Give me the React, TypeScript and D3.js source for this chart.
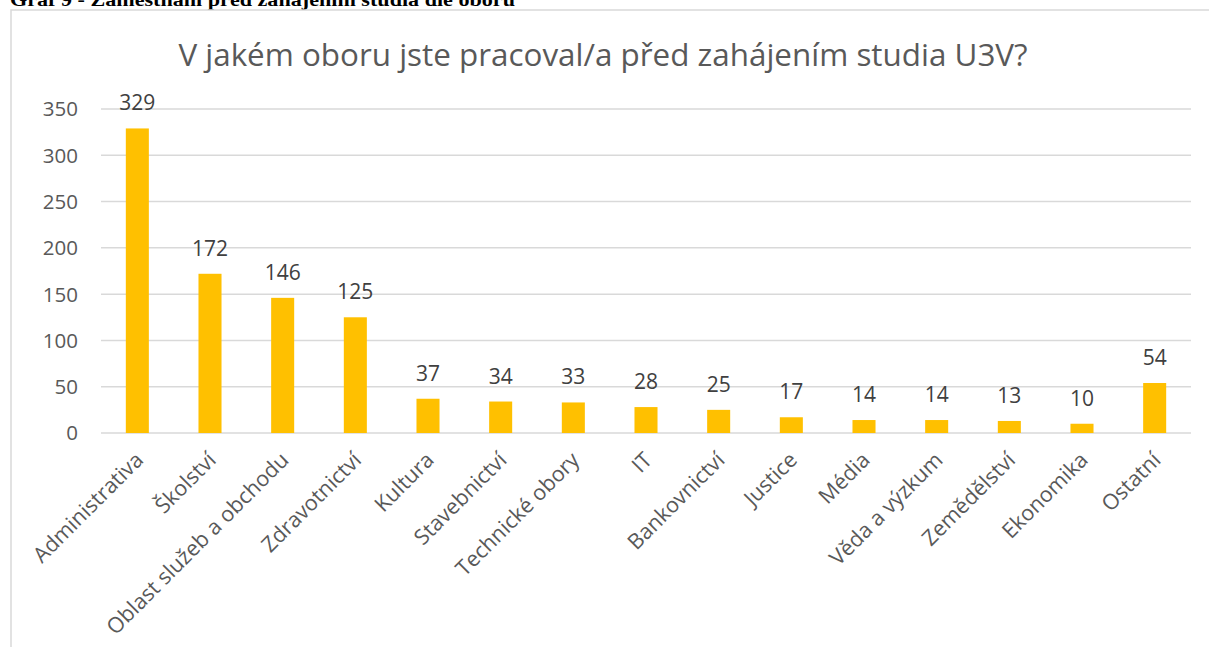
import React from "react";
import * as d3 from "d3";

const categories = [
  "Administrativa",
  "Školství",
  "Oblast služeb a obchodu",
  "Zdravotnictví",
  "Kultura",
  "Stavebnictví",
  "Technické obory",
  "IT",
  "Bankovnictví",
  "Justice",
  "Média",
  "Věda a výzkum",
  "Zemědělství",
  "Ekonomika",
  "Ostatní",
];
const values = [329, 172, 146, 125, 37, 34, 33, 28, 25, 17, 14, 14, 13, 10, 54];
const yTicks = [0, 50, 100, 150, 200, 250, 300, 350];
const caption = "Graf 9 - Zaměstnání před zahájením studia dle oboru";
const title = "V jakém oboru jste pracoval/a před zahájením studia U3V?";

const W = 1209;
const H = 647;
const FONT = "'Open Sans', sans-serif";

export default function App() {
  const x = d3
    .scaleBand<string>()
    .domain(categories)
    .range([101, 1191])
    .paddingInner(0.683)
    .paddingOuter(0.3415);
  const y = d3.scaleLinear().domain([0, 350]).range([433, 109]);

  return (
    <svg
      width={W}
      height={H}
      style={{ position: "absolute", left: 0, top: 0, background: "#fff" }}
    >
      <text
        x={10}
        y={6}
        fontFamily="'Liberation Serif', 'Times New Roman', serif"
        fontWeight="bold"
        fontSize={19}
        textLength={505}
        lengthAdjust="spacingAndGlyphs"
        fill="#000"
      >
        {caption}
      </text>
      <rect
        x={11}
        y={10}
        width={W + 20}
        height={H + 20}
        fill="#fff"
        stroke="#d9d9d9"
        strokeWidth={1.5}
      />
      <text
        x={603}
        y={66}
        textAnchor="middle"
        fontFamily={FONT}
        fontSize={31.4}
        fill="#595959"
      >
        {title}
      </text>
      {yTicks.map((t) => (
        <g key={t}>
          <line
            x1={101}
            x2={1191}
            y1={y(t)}
            y2={y(t)}
            stroke="#d9d9d9"
            strokeWidth={1.5}
          />
          <text
            x={78}
            y={y(t)}
            dy="0.36em"
            textAnchor="end"
            fontFamily={FONT}
            fontSize={20.5}
            fill="#595959"
          >
            {t}
          </text>
        </g>
      ))}
      {categories.map((c, i) => (
        <g key={c}>
          <rect
            x={x(c)!}
            y={y(values[i])}
            width={x.bandwidth()}
            height={y(0) - y(values[i])}
            fill="#FFC000"
          />
          <text
            x={x(c)! + x.bandwidth() / 2}
            y={y(values[i]) - 18}
            textAnchor="middle"
            fontFamily={FONT}
            fontSize={21}
            fill="#404040"
          >
            {values[i]}
          </text>
          <text
            transform={`translate(${x(c)! + x.bandwidth() / 2 + 2},456) rotate(-45)`}
            dy="0.35em"
            textAnchor="end"
            fontFamily={FONT}
            fontSize={21.5}
            fill="#595959"
          >
            {c}
          </text>
        </g>
      ))}
    </svg>
  );
}
